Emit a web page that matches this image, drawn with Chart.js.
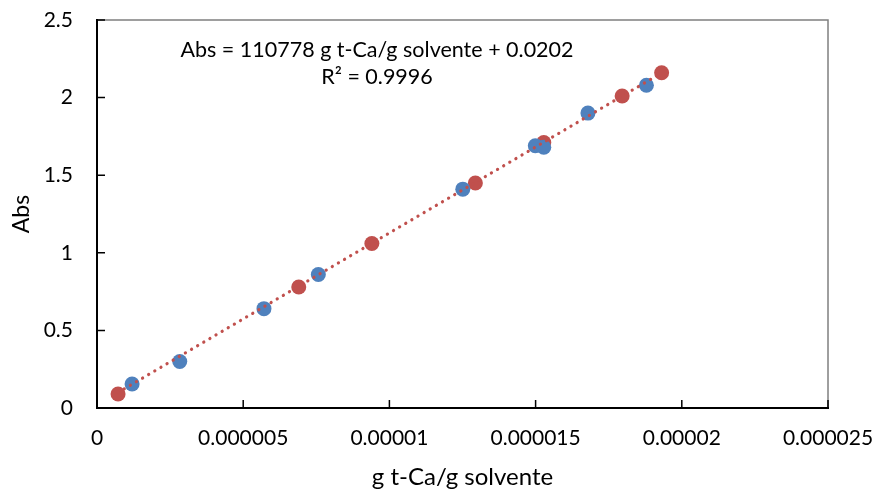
<!DOCTYPE html>
<html>
<head>
<meta charset="utf-8">
<script src="https://cdn.jsdelivr.net/npm/chart.js@4"></script>
<style>
  html, body { margin: 0; padding: 0; background: #fff; }
  #wrap { width: 877px; height: 497px; position: relative; }
</style>
</head>
<body>
<div id="wrap"><canvas id="c" width="877" height="497"></canvas></div>
<script>
// ---- data ----
const redX  = [0.72e-6, 6.90e-6, 9.40e-6, 12.94e-6, 15.28e-6, 17.96e-6, 19.31e-6];
const redY  = [0.09, 0.78, 1.06, 1.45, 1.71, 2.01, 2.16];
const blueX = [1.20e-6, 2.83e-6, 5.71e-6, 7.57e-6, 12.51e-6, 14.99e-6, 15.28e-6, 16.79e-6, 18.79e-6];
const blueY = [0.155, 0.30, 0.64, 0.86, 1.41, 1.69, 1.68, 1.90, 2.08];
const xTickLabels = ["0", "0.000005", "0.00001", "0.000015", "0.00002", "0.000025"];
const yTickLabels = ["0", "0.5", "1", "1.5", "2", "2.5"];
const trendSlope = 110778;
const trendIntercept = 0.0202;
const equationText = "Abs = 110778 g t-Ca/g solvente + 0.0202";
const r2Text = "R\u00B2 = 0.9996";
const xTitle = "g t-Ca/g solvente";
const yTitle = "Abs";

const FONT = "Lato, 'Open Sans', sans-serif";
const redPts = redX.map((x, i) => ({ x, y: redY[i] }));
const bluePts = blueX.map((x, i) => ({ x, y: blueY[i] }));
const tx0 = Math.min(...redX), tx1 = Math.max(...redX);
const trendPts = [tx0, tx1].map(x => ({ x, y: trendSlope * x + trendIntercept }));

const framePlugin = {
  id: 'frame',
  beforeDatasetsDraw(chart) {
    const { ctx, chartArea: a, scales } = chart;
    ctx.save();
    // plot-area border (top/right) in gray
    ctx.strokeStyle = '#7f7f7f';
    ctx.lineWidth = 1.5;
    ctx.strokeRect(a.left, a.top, a.right - a.left, a.bottom - a.top);
    // axis lines in black
    ctx.strokeStyle = '#000';
    ctx.lineWidth = 2;
    ctx.beginPath();
    ctx.moveTo(a.left, a.top - 1);
    ctx.lineTo(a.left, a.bottom);
    ctx.lineTo(a.right + 1, a.bottom);
    ctx.stroke();
    // inward tick marks
    ctx.lineWidth = 1.5;
    ctx.beginPath();
    scales.x.ticks.forEach(t => {
      const px = scales.x.getPixelForValue(t.value);
      ctx.moveTo(px, a.bottom);
      ctx.lineTo(px, a.bottom - 8);
    });
    scales.y.ticks.forEach(t => {
      const py = scales.y.getPixelForValue(t.value);
      ctx.moveTo(a.left, py);
      ctx.lineTo(a.left + 8, py);
    });
    ctx.stroke();
    ctx.restore();
  },
  afterDraw(chart) {
    const { ctx, chartArea: a } = chart;
    ctx.save();
    ctx.fillStyle = '#000';
    ctx.font = "21.5px " + FONT;
    ctx.textAlign = 'center';
    ctx.textBaseline = 'middle';
    ctx.fillText(equationText, a.left + 280, a.top + 30);
    ctx.fillText(r2Text, a.left + 280, a.top + 57);
    ctx.restore();
  }
};

new Chart(document.getElementById('c'), {
  type: 'scatter',
  data: {
    datasets: [
      {
        label: 'trend',
        type: 'line',
        data: trendPts,
        borderColor: '#C0504D',
        borderWidth: 3.2,
        borderDash: [0.1, 7],
        borderCapStyle: 'round',
        pointRadius: 0,
        fill: false,
        order: 0
      },
      {
        label: 'blue',
        data: bluePts,
        backgroundColor: '#4F81BD',
        borderColor: '#4F81BD',
        pointRadius: 7.5,
        pointBorderWidth: 0,
        order: 1
      },
      {
        label: 'red',
        data: redPts,
        backgroundColor: '#C0504D',
        borderColor: '#C0504D',
        pointRadius: 7.5,
        pointBorderWidth: 0,
        order: 2
      }
    ]
  },
  options: {
    responsive: false,
    animation: false,
    layout: { padding: { top: 20, right: 49, left: 0, bottom: 0 } },
    plugins: { legend: { display: false }, tooltip: { enabled: false } },
    scales: {
      x: {
        type: 'linear',
        min: 0, max: 0.000025,
        afterFit(s) { s.height = 89; s.paddingLeft = 0; s.paddingRight = 0; },
        grid: { display: false, drawTicks: false },
        border: { display: false },
        ticks: {
          stepSize: 0.000005,
          padding: 18,
          color: '#000',
          font: { family: FONT, size: 21 },
          maxRotation: 0,
          callback: (v) => xTickLabels[Math.round(v / 0.000005)]
        },
        title: {
          display: true, text: xTitle, color: '#000',
          font: { family: FONT, size: 24 },
          padding: { top: 0, bottom: 5 }
        }
      },
      y: {
        type: 'linear',
        min: 0, max: 2.5,
        afterFit(s) { s.width = 97; s.paddingTop = 0; s.paddingBottom = 0; },
        grid: { display: false, drawTicks: false },
        border: { display: false },
        ticks: {
          stepSize: 0.5,
          padding: 24,
          color: '#000',
          font: { family: FONT, size: 21 },
          callback: (v) => yTickLabels[Math.round(v / 0.5)]
        },
        title: {
          display: true, text: yTitle, color: '#000',
          font: { family: FONT, size: 23 },
          padding: { top: 8, bottom: 0 }
        }
      }
    }
  },
  plugins: [framePlugin]
});
</script>
</body>
</html>
